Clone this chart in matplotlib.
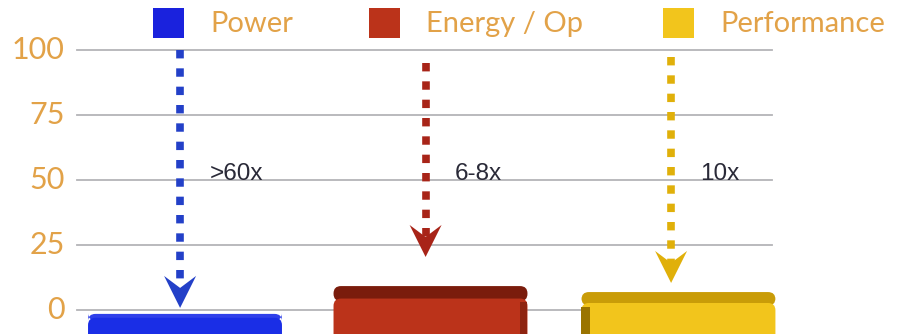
import matplotlib.pyplot as plt
from matplotlib.patches import FancyBboxPatch, Polygon, Rectangle

# data
categories = ["Power", "Energy / Op", "Performance"]
bar_values = [1.0, 11.7, 9.4]          # height above the 3D floor
floor = -2.5                            # floor of the 3D box sits below the zero line
arrow_top = [100, 95, 97.5]
arrow_tip = [0.8, 20.4, 10.4]
ratio_labels = [">60x", "6-8x", "10x"]
yticks = [0, 25, 50, 75, 100]

front = ["#1a2ee6", "#bb331a", "#f2c51c"]
top = ["#2f40ea", "#7a1c0c", "#c99c08"]
edge = [None, "#8e2410", "#9a7400"]
arrow_col = ["#2340c8", "#a82418", "#e0b00a"]
tan = "#e2a248"

W, H = 902, 334
fig = plt.figure(figsize=(W / 100, H / 100), dpi=100)
ax = fig.add_axes([0, 0, 1, 1])
ax.set_axis_off()

# pixel <-> data scale: 245.5 px per category, 2.6 px per unit
px_x, px_y = 245.5, 2.6
ax.set_xlim(-185 / px_x, (W - 185) / px_x)
ax.set_ylim((310 - H) / px_y, 310 / px_y)

# gridlines and tick labels
for t in yticks:
    ax.plot([-0.44, 2.39], [t, t], color="#b4b4b8", lw=1.3, zorder=1)
    ax.text(-0.49, t, str(t), ha="right", va="center", color=tan,
            fontsize=22, family="Lato")

# 3D-looking bars
w = 0.79
depth = [1.5, 4.8, 4.2]
aspect = px_x / px_y
bottom = -12
for i, v in enumerate(bar_values):
    back = floor + v
    ftop = back - depth[i]
    x0 = i - w / 2 + (0.01 if i == 2 else 0)
    lid = FancyBboxPatch((x0, ftop - 1.0), w, back - ftop + 1.0,
                         boxstyle="round,pad=0,rounding_size=0.03",
                         mutation_aspect=aspect, fc=top[i], ec="none", zorder=2)
    ax.add_patch(lid)
    side = FancyBboxPatch((x0, bottom), w, ftop - bottom,
                          boxstyle="round,pad=0,rounding_size=0.03",
                          mutation_aspect=aspect, fc=front[i], ec="none", zorder=3)
    ax.add_patch(side)
    # darker side face for depth
    if i == 2:
        ax.add_patch(Rectangle((x0, bottom), 0.035, ftop - bottom - 1.5,
                               fc=edge[i], ec="none", zorder=4))
    elif i == 1:
        ax.add_patch(Rectangle((x0 + w - 0.03, bottom), 0.03, ftop - bottom - 1.5,
                               fc=edge[i], ec="none", zorder=4))

# dotted arrows
hw, hl, notch = 16 / px_x, 32 / px_y, 12 / px_y
for i in range(3):
    x = i - 0.02
    ax.plot([x, x], [arrow_top[i], arrow_tip[i] + hl - notch],
            color=arrow_col[i], lw=5.5, linestyle=(0, (1.1, 1.3)),
            dash_capstyle="butt", zorder=5)
    head = Polygon([(x, arrow_tip[i]), (x - hw, arrow_tip[i] + hl),
                    (x, arrow_tip[i] + hl - notch), (x + hw, arrow_tip[i] + hl)],
                   closed=True, fc=arrow_col[i], ec="none", zorder=6)
    ax.add_patch(head)
    ax.text(x + 0.12, 52.5, ratio_labels[i], ha="left", va="center",
            color="#2a2a38", fontsize=17.5, family="Liberation Sans")

# legend across the top
leg_x = [153, 369, 663]
for i, name in enumerate(categories):
    fig.patches.append(Rectangle((leg_x[i] / W, 1 - 38 / H), 31 / W, 30 / H,
                                 transform=fig.transFigure, fc=front[i] if i else "#1a22dd",
                                 ec="none"))
    fig.text((leg_x[i] + 57) / W, 1 - 24 / H, name, ha="left", va="center",
             color=tan, fontsize=21, family="Lato")

fig.savefig("out.png", dpi=100)
